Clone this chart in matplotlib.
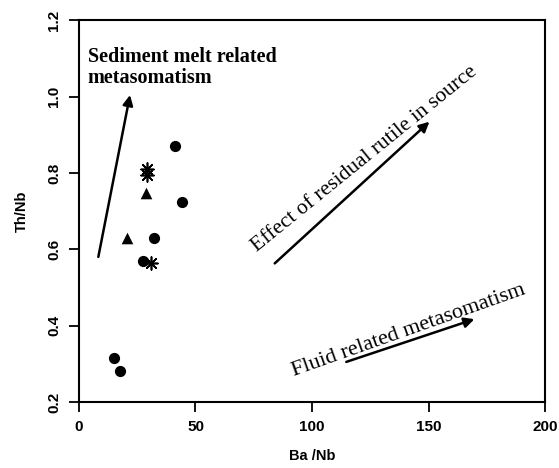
import matplotlib
matplotlib.use("Agg")
import matplotlib.pyplot as plt

# Samples (Ba/Nb, Th/Nb)
circle_x = [41.4, 44.0, 32.4, 27.6, 15.0, 17.6]
circle_y = [0.871, 0.724, 0.630, 0.570, 0.316, 0.282]
triangle_x = [28.7, 20.4]
triangle_y = [0.748, 0.629]
star_x = [29.0, 29.0, 31.1]
star_y = [0.810, 0.795, 0.563]

# Trend arrows: (start, end)
arrows = [
    ((8.3, 0.580), (21.9, 1.004)),    # sediment melt
    ((84.0, 0.563), (150.4, 0.934)),  # residual rutile
    ((114.7, 0.305), (169.7, 0.417)), # fluid
]

fig = plt.figure(figsize=(5.59, 4.68), dpi=100)
ax = fig.add_axes([0.1413, 0.141, 0.8337, 0.816])

ax.scatter(circle_x, circle_y, marker="o", s=65, c="black", linewidths=0)
ax.scatter(triangle_x, triangle_y, marker="^", s=70, c="black", linewidths=0)
ax.scatter(star_x, star_y, marker=(8, 2, 0), s=85, c="black", linewidths=1.2)

for (x0, y0), (x1, y1) in arrows:
    ax.annotate("", xy=(x1, y1), xytext=(x0, y0),
                arrowprops=dict(arrowstyle="-|>", color="black", lw=1.8,
                                mutation_scale=15, shrinkA=0, shrinkB=0))

serif = "Liberation Serif"
ax.text(3.8, 1.13, "Sediment melt related\nmetasomatism", family=serif,
        fontsize=14.5, fontweight="bold", ha="left", va="top", linespacing=1.05)
ax.text(122.5, 0.836, "Effect of residual rutile in source", family=serif,
        fontsize=15.5, rotation=39, ha="center", va="center",
        rotation_mode="anchor")
ax.text(141.5, 0.386, "Fluid related metasomatism", family=serif,
        fontsize=16, rotation=19.5, ha="center", va="center",
        rotation_mode="anchor")

ax.set_xlim(0, 200)
ax.set_ylim(0.2, 1.2)
ax.set_xticks([0, 50, 100, 150, 200])
ax.set_yticks([0.2, 0.4, 0.6, 0.8, 1.0, 1.2])
ax.set_yticklabels(["0.2", "0.4", "0.6", "0.8", "1.0", "1.2"],
                   rotation=90, va="center")
ax.tick_params(direction="out", length=7, width=1.3, pad=6)
for lab in ax.get_xticklabels() + ax.get_yticklabels():
    lab.set_family("Liberation Sans")
    lab.set_fontweight("bold")
    lab.set_fontsize(11)
for sp in ax.spines.values():
    sp.set_linewidth(1.5)

ax.set_xlabel("Ba /Nb", family="Liberation Sans", fontweight="bold",
              fontsize=10.5, labelpad=11)
ax.set_ylabel("Th/Nb", family="Liberation Sans", fontweight="bold",
              fontsize=10.5, labelpad=13)

fig.savefig("out.png", dpi=100, facecolor="white")
